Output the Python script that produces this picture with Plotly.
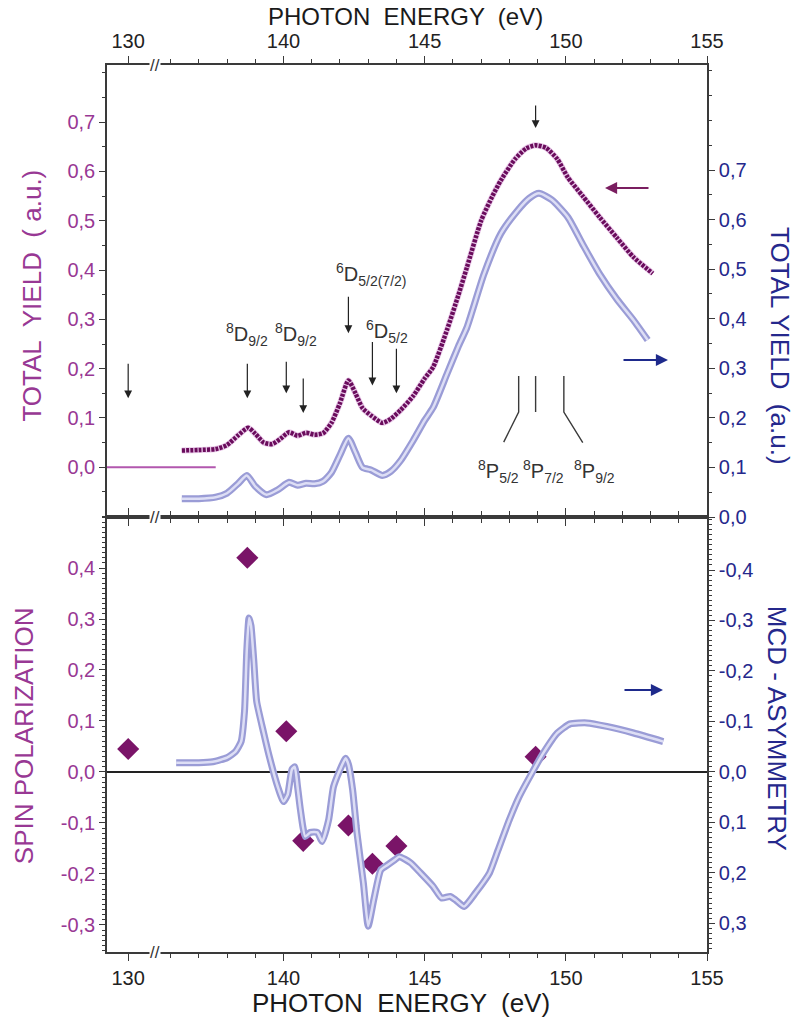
import plotly.graph_objects as go

# ---------------- data ----------------
# Top panel: total yield, purple (left axis)
YIELD_L_E = [136.4, 137.0, 137.6, 138.0, 138.4, 138.75, 139.0, 139.3, 139.6, 139.9,
             140.2, 140.5, 140.8, 141.1, 141.4, 141.7, 142.0, 142.3, 142.55, 142.8,
             143.1, 143.5, 143.8, 144.15, 144.6, 145.0, 145.3, 145.8, 146.2, 146.5,
             147.0, 147.4, 147.7, 148.2, 148.6, 148.93, 149.3, 149.7, 150.07, 150.6,
             151.2, 151.8, 152.4, 153.08]
YIELD_L = [0.034, 0.035, 0.037, 0.045, 0.065, 0.080, 0.068, 0.050, 0.047, 0.058,
           0.071, 0.064, 0.070, 0.066, 0.069, 0.090, 0.130, 0.176, 0.150, 0.120,
           0.105, 0.090, 0.098, 0.116, 0.145, 0.180, 0.203, 0.280, 0.350, 0.406,
           0.500, 0.550, 0.582, 0.625, 0.647, 0.653, 0.648, 0.625, 0.588, 0.550,
           0.507, 0.466, 0.426, 0.393]

# Top panel: total yield, blue (right axis)
YIELD_R_E = [136.4, 137.0, 137.6, 138.0, 138.4, 138.7, 139.0, 139.4, 139.8, 140.2,
             140.5, 140.8, 141.1, 141.4, 141.7, 142.0, 142.3, 142.55, 142.8, 143.1,
             143.5, 143.8, 144.15, 144.6, 145.0, 145.3, 145.8, 146.2, 146.5, 147.1,
             147.7, 148.3, 148.7, 149.05, 149.5, 150.07, 150.6, 151.2, 151.8, 152.4,
             152.9]
YIELD_R = [0.037, 0.037, 0.040, 0.048, 0.068, 0.084, 0.062, 0.045, 0.055, 0.070,
           0.064, 0.068, 0.067, 0.072, 0.090, 0.125, 0.159, 0.130, 0.100, 0.095,
           0.084, 0.092, 0.114, 0.155, 0.195, 0.221, 0.290, 0.345, 0.383, 0.490,
           0.572, 0.619, 0.643, 0.653, 0.640, 0.605, 0.550, 0.490, 0.440, 0.397,
           0.357]

# Purple zero marker line of the left axis (top panel)
BASE_E = [129.25, 137.6]
BASE_Y = [0.0, 0.0]

# Bottom panel: MCD asymmetry (right axis, reversed)
MCD_E = [136.2, 137.0, 137.5, 138.0, 138.3, 138.5, 138.62, 138.7, 138.78, 138.85,
         138.95, 139.05, 139.3, 139.5, 139.8, 140.0, 140.15, 140.3, 140.4, 140.5,
         140.6, 140.77, 140.95, 141.2, 141.37, 141.6, 141.77, 142.0, 142.2, 142.3,
         142.45, 142.6, 142.83, 143.0, 143.2, 143.45, 143.7, 143.95, 144.1, 144.5,
         144.85, 145.3, 145.6, 145.9, 146.1, 146.4, 146.8, 147.3, 147.6, 148.0,
         148.35, 148.8, 149.2, 149.7, 150.15, 150.75, 151.45, 152.4, 153.45]
MCD = [-0.018, -0.018, -0.020, -0.028, -0.040, -0.060, -0.120, -0.240, -0.305, -0.290,
       -0.220, -0.140, -0.077, -0.030, 0.030, 0.059, 0.045, -0.005, -0.010, 0.030,
       0.075, 0.128, 0.120, 0.120, 0.138, 0.095, 0.030, -0.004, -0.027, -0.015,
       0.036, 0.120, 0.220, 0.306, 0.253, 0.194, 0.184, 0.174, 0.168, 0.180,
       0.200, 0.227, 0.250, 0.247, 0.254, 0.267, 0.240, 0.200, 0.155, 0.095,
       0.049, 0.002, -0.037, -0.077, -0.095, -0.097, -0.090, -0.077, -0.060]

# Bottom panel: spin polarization (left axis)
SPIN_E = [130.0, 138.72, 140.1, 140.7, 142.3, 143.15, 144.0, 148.93]
SPIN = [0.045, 0.42, 0.08, -0.135, -0.105, -0.18, -0.145, 0.03]

# Arrows in the top panel (energy, tip value on left axis, length px)
ARROW_E = [130.0, 138.72, 140.1, 140.7, 142.3, 143.15, 144.0, 148.93]
ARROW_TIP = [0.140, 0.140, 0.150, 0.110, 0.272, 0.166, 0.150, 0.688]
ARROW_LEN = [36, 36, 33, 36, 38, 45, 46, 24]

# State labels
D_LABELS = ["<sup>8</sup>D<sub>9/2</sub>", "<sup>8</sup>D<sub>9/2</sub>",
            "<sup>6</sup>D<sub>5/2(7/2)</sub>", "<sup>6</sup>D<sub>5/2</sub>"]
D_LABEL_E = [138.7, 140.45, 143.1, 143.65]
D_LABEL_Y = [0.270, 0.270, 0.390, 0.275]

P_LABELS = ["<sup>8</sup>P<sub>5/2</sub>", "<sup>8</sup>P<sub>7/2</sub>",
            "<sup>8</sup>P<sub>9/2</sub>"]
P_LABEL_E = [147.6, 149.2, 151.0]
P_LABEL_Y = [-0.008, -0.008, -0.008]
P_LINE_E = [148.33, 148.93, 149.93]
P_LINE_TOP = [0.185, 0.185, 0.185]
P_LINE_BOT = [0.112, 0.112, 0.112]
P_LEAD_E = [147.8, None, 150.6]
P_LEAD_Y = [0.051, None, 0.050]

X_MAJOR = [130, 140, 145, 150, 155]
X_MINOR = list(range(136, 155))
TOP_TICKS = [0.0, 0.1, 0.2, 0.3, 0.4, 0.5, 0.6, 0.7]
SPIN_TICKS = [-0.3, -0.2, -0.1, 0.0, 0.1, 0.2, 0.3, 0.4]
MCD_TICKS = [-0.4, -0.3, -0.2, -0.1, 0.0, 0.1, 0.2, 0.3]

# ---------------- styling ----------------
FONT = "Liberation Sans, Arial, sans-serif"
PURPLE_TXT = "#983894"
BLUE_TXT = "#25288C"
PURPLE_CURVE = "#6A0C5C"
DIAMOND_C = "#7A1468"
BLUE_OUT = "#9A9CD6"
BLUE_IN = "#DDDEF5"
AX = "#3A3A3A"
SPLIT = 0.4904


def u(e):
    """axis break: 131..135 eV is cut out of the energy axis"""
    return e if e < 133 else e - 4.5


def lab(v):
    return f"{v:.1f}".replace(".", ",")


fig = go.Figure()

# top panel curves
fig.add_trace(go.Scatter(x=[u(e) for e in BASE_E], y=BASE_Y, mode="lines",
                         line=dict(color="#B257AE", width=2.2),
                         xaxis="x2", yaxis="y3", hoverinfo="skip"))
fig.add_trace(go.Scatter(x=[u(e) for e in YIELD_R_E], y=YIELD_R, mode="lines",
                         line=dict(color=BLUE_OUT, width=7, shape="spline", smoothing=0.6),
                         xaxis="x2", yaxis="y4"))
fig.add_trace(go.Scatter(x=[u(e) for e in YIELD_R_E], y=YIELD_R, mode="lines",
                         line=dict(color=BLUE_IN, width=2.5, shape="spline", smoothing=0.6),
                         xaxis="x2", yaxis="y4"))
fig.add_trace(go.Scatter(x=[u(e) for e in YIELD_L_E], y=YIELD_L, mode="lines",
                         line=dict(color="#C060C0", width=6, shape="spline", smoothing=0.6),
                         opacity=0.35, xaxis="x2", yaxis="y3"))
fig.add_trace(go.Scatter(x=[u(e) for e in YIELD_L_E], y=YIELD_L, mode="lines",
                         line=dict(color=PURPLE_CURVE, width=4.5, dash="3px,1.2px",
                                   shape="spline", smoothing=0.6),
                         xaxis="x2", yaxis="y3"))

# leader lines of the 8P levels
for e, t, b, le, ly in zip(P_LINE_E, P_LINE_TOP, P_LINE_BOT, P_LEAD_E, P_LEAD_Y):
    xs, ys = [u(e), u(e)], [t, b]
    if le is not None:
        xs.append(u(le))
        ys.append(ly)
    fig.add_trace(go.Scatter(x=xs, y=ys, mode="lines",
                             line=dict(color="#3A3A3A", width=1.4),
                             xaxis="x2", yaxis="y3", hoverinfo="skip"))

# bottom panel
fig.add_trace(go.Scatter(x=[u(e) for e in MCD_E], y=MCD, mode="lines",
                         line=dict(color=BLUE_OUT, width=7, shape="spline", smoothing=0.5),
                         xaxis="x", yaxis="y2"))
fig.add_trace(go.Scatter(x=[u(e) for e in MCD_E], y=MCD, mode="lines",
                         line=dict(color=BLUE_IN, width=2.5, shape="spline", smoothing=0.5),
                         xaxis="x", yaxis="y2"))
fig.add_trace(go.Scatter(x=[u(e) for e in SPIN_E], y=SPIN, mode="markers",
                         marker=dict(symbol="diamond", size=17, color=DIAMOND_C),
                         xaxis="x", yaxis="y"))

xr = [129.25, 150.5]
tickfont = dict(family=FONT, size=20, color="#222222")
common_x = dict(range=xr, tickmode="array", tickvals=[u(v) for v in X_MAJOR],
                ticktext=[str(v) for v in X_MAJOR], ticks="outside", ticklen=7,
                tickwidth=1.3, tickcolor=AX, showline=True, linecolor=AX, linewidth=1.6,
                mirror="ticks", showgrid=False, zeroline=False, tickfont=tickfont,
                minor=dict(tickmode="array", tickvals=[u(v) for v in X_MINOR],
                           ticks="outside", ticklen=4, tickcolor=AX, tickwidth=1.1))


def yax(rng, ticks, color, minor_dt, **kw):
    d = dict(range=rng, tickmode="array", tickvals=ticks, ticktext=[lab(v) for v in ticks],
             ticks="outside", ticklen=6, tickwidth=1.3, tickcolor=AX, showline=True,
             linecolor=AX, linewidth=1.6, showgrid=False, zeroline=False,
             tickfont=dict(family=FONT, size=20, color=color),
             minor=dict(dtick=minor_dt, tick0=0, ticks="outside", ticklen=3,
                        tickcolor=AX, tickwidth=1))
    d.update(kw)
    return d


fig.update_layout(
    width=795, height=1019, autosize=False,
    margin=dict(l=107, r=88, t=65, b=67, autoexpand=False),
    paper_bgcolor="white", plot_bgcolor="white", showlegend=False,
    font=dict(family=FONT, color="#222222"),
    xaxis=dict(common_x, domain=[0, 1], anchor="y", side="bottom"),
    xaxis2=dict(common_x, domain=[0, 1], anchor="y3", side="top"),
    yaxis=yax([-0.353, 0.5], SPIN_TICKS, PURPLE_TXT, 0.01, domain=[0, SPLIT],
              anchor="x", zeroline=True, zerolinecolor="#222222", zerolinewidth=1.6),
    yaxis2=yax([0.357, -0.505], MCD_TICKS, BLUE_TXT, 0.01, overlaying="y",
               side="right", anchor="x"),
    yaxis3=yax([-0.101, 0.816], TOP_TICKS, PURPLE_TXT, 0.05, domain=[SPLIT, 1],
               anchor="x2"),
    yaxis4=yax([0.0, 0.912], TOP_TICKS, BLUE_TXT, 0.05, overlaying="y3",
               side="right", anchor="x2"),
)

ann = []
# axis titles
ttl = dict(family=FONT, size=26)
ann.append(dict(text="PHOTON  ENERGY  (eV)", x=0.497, y=1.055, xref="paper", yref="paper",
                xanchor="center", yanchor="middle",
                showarrow=False, font=dict(family=FONT, size=24, color="#1A1A1A")))
ann.append(dict(text="PHOTON  ENERGY  (eV)", x=0.49, y=-0.058, xref="paper", yref="paper",
                xanchor="center", yanchor="middle",
                showarrow=False, font=dict(ttl, color="#1A1A1A")))
ann.append(dict(text="TOTAL  YIELD  ( a.u.)", x=-0.125, y=0.740, xref="paper", yref="paper",
                xanchor="center", yanchor="middle",
                textangle=-90, showarrow=False, font=dict(ttl, color=PURPLE_TXT)))
ann.append(dict(text="SPIN POLARIZATION", x=-0.138, y=0.2435, xref="paper", yref="paper",
                xanchor="center", yanchor="middle",
                textangle=-90, showarrow=False, font=dict(ttl, color=PURPLE_TXT)))
ann.append(dict(text="TOTAL YIELD  (a.u.)", x=1.122, y=0.684, xref="paper", yref="paper",
                xanchor="center", yanchor="middle",
                textangle=90, showarrow=False, font=dict(ttl, color=BLUE_TXT)))
ann.append(dict(text="MCD - ASYMMETRY", x=1.117, y=0.2525, xref="paper", yref="paper",
                xanchor="center", yanchor="middle",
                textangle=90, showarrow=False, font=dict(ttl, color=BLUE_TXT)))

# axis break marks
for yp in [1.0, SPLIT, 0.0]:
    ann.append(dict(text="//", x=u(130.95), y=yp, xref="x", yref="paper",
                    xanchor="center", yanchor="middle", bgcolor="white", borderpad=0,
                    showarrow=False, font=dict(family=FONT, size=17, color="#333333")))

# arrows marking the energies of the spin-polarization points
for e, tip, ln in zip(ARROW_E, ARROW_TIP, ARROW_LEN):
    ann.append(dict(x=u(e), y=tip, xref="x2", yref="y3", ax=0, ay=-ln, text="",
                    showarrow=True, arrowhead=2, arrowsize=1.3, arrowwidth=1.2,
                    arrowcolor="#222222"))

# state labels
for t, e, yv in zip(D_LABELS, D_LABEL_E, D_LABEL_Y):
    ann.append(dict(text=t, x=u(e), y=yv, xref="x2", yref="y3", showarrow=False,
                    font=dict(family=FONT, size=20, color="#333333")))
for t, e, yv in zip(P_LABELS, P_LABEL_E, P_LABEL_Y):
    ann.append(dict(text=t, x=u(e), y=yv, xref="x2", yref="y3", showarrow=False,
                    font=dict(family=FONT, size=20, color="#333333")))

# arrows telling which axis each curve belongs to
def px2paper(px, py):
    return (px - 107) / 600.0, (952 - py) / 887.0

for (tx, ty), axp, col in [((605, 188), 45, "#7A1E60"), ((668, 360), -46, "#1E2A8C"),
                           ((663, 690), -40, "#1E2A8C")]:
    xp, yp = px2paper(tx, ty)
    ann.append(dict(x=xp, y=yp, xref="paper", yref="paper", ax=axp, ay=0, text="",
                    showarrow=True, arrowhead=2, arrowsize=1.1, arrowwidth=2.2,
                    arrowcolor=col))

fig.update_layout(annotations=ann)
fig.write_html("out.html", config={"displayModeBar": False},
               post_script="document.body.style.margin='0';document.body.style.padding='0';")
